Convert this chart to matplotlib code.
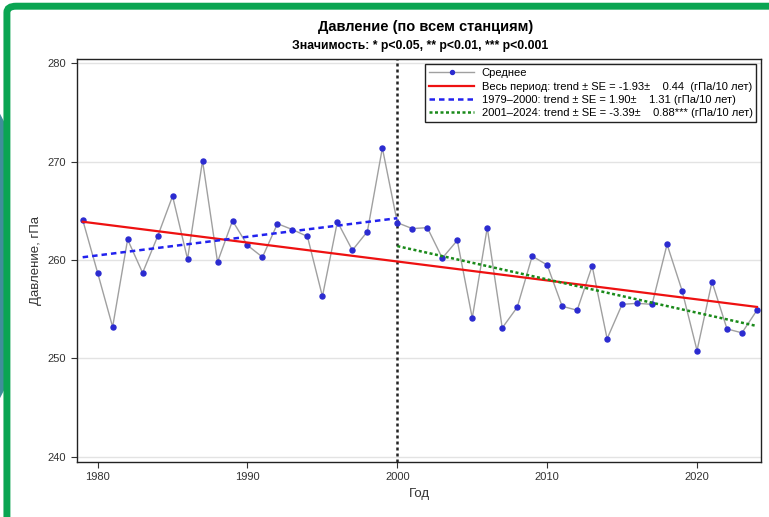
import matplotlib.pyplot as plt
import numpy as np
from matplotlib.patches import FancyBboxPatch, Polygon

plt.rcParams['font.family'] = ['Liberation Sans', 'DejaVu Sans']

# Data
years = np.arange(1979, 2025)
pressure = [264.1, 258.7, 253.2, 262.1, 258.7, 262.4, 266.5, 260.1, 270.1, 259.8,
            264.0, 261.5, 260.3, 263.7, 263.1, 262.4, 256.3, 263.9, 261.0, 262.9,
            271.4, 263.8, 263.2, 263.3, 260.2, 262.0, 254.1, 263.3, 253.1, 255.2,
            260.4, 259.5, 255.3, 254.9, 259.4, 252.0, 255.5, 255.6, 255.5, 261.6,
            256.9, 250.8, 257.8, 253.0, 252.6, 254.9]
split_year = 2000

legend_labels = [
    'Среднее',
    'Весь период: trend ± SE = -1.93±    0.44  (гПа/10 лет)',
    '1979–2000: trend ± SE = 1.90±    1.31 (гПа/10 лет)',
    '2001–2024: trend ± SE = -3.39±    0.88*** (гПа/10 лет)',
]

years = np.array(years)
pressure = np.array(pressure)


def fit_line(x, y):
    slope, intercept = np.polyfit(x, y, 1)
    return x, slope * x + intercept


fig = plt.figure(figsize=(7.69, 5.17), dpi=100)
ax = fig.add_axes([0.0997, 0.107, 0.8905, 0.778])

# Mean series
ax.plot(years, pressure, color='#a0a0a0', lw=1, marker='o', ms=3.6,
        mfc='#2b2bd0', mec='#2b2bd0', label=legend_labels[0], zorder=3)

# Trend lines
x_all, y_all = fit_line(years, pressure)
ax.plot(x_all, y_all, color='#ee1111', lw=1.6, label=legend_labels[1], zorder=4)

m1 = years <= split_year
x1, y1 = fit_line(years[m1], pressure[m1])
ax.plot(x1, y1, color='#2222ee', lw=1.8, ls=(0, (2.2, 1.6)), label=legend_labels[2], zorder=4)

m2 = years >= split_year
x2, y2 = fit_line(years[m2], pressure[m2])
ax.plot(x2, y2, color='#1a8a1a', lw=1.8, ls=(0, (1.2, 1.0)), label=legend_labels[3], zorder=4)

ax.axvline(split_year, color='#222222', lw=1.8, ls=(0, (1.2, 1.2)), zorder=2)

ax.set_xlim(1978.6, 2024.3)
ax.set_ylim(239.5, 280.4)
ax.set_xticks([1980, 1990, 2000, 2010, 2020])
ax.set_yticks([240, 250, 260, 270, 280])
ax.grid(axis='y', color='#e3e3e3', lw=1)
ax.set_axisbelow(True)
ax.tick_params(labelsize=8, colors='#333333', length=4)
for s in ax.spines.values():
    s.set_color('#222222')
    s.set_linewidth(1)

ax.set_xlabel('Год', fontsize=9.5, color='#333333')
ax.set_ylabel('Давление, гПа', fontsize=9.5, color='#333333')

fig.text(0.553, 0.941, 'Давление (по всем станциям)', ha='center', fontsize=10.5,
         fontweight='bold')
fig.text(0.546, 0.905, 'Значимость: * p<0.05, ** p<0.01, *** p<0.001', ha='center',
         fontsize=8.8, fontweight='bold')

leg = ax.legend(loc='upper right', fontsize=8.0, frameon=True, fancybox=False,
                framealpha=1, edgecolor='#222222', borderpad=0.35, labelspacing=0.3,
                handlelength=4.0, handletextpad=0.7, borderaxespad=0.45, markerscale=0.8)
leg.get_frame().set_linewidth(1)

# Slide frame decorations
fig.patches.append(Polygon([[0, 0.78], [0.007, 0.76], [0.007, 0.25], [0, 0.23]],
                           closed=True, transform=fig.transFigure,
                           facecolor='#3f8f9a', edgecolor='none'))
fig.patches.append(FancyBboxPatch((0.009, -0.05), 1.2, 1.038,
                                  boxstyle='round,pad=0,rounding_size=0.012',
                                  transform=fig.transFigure, facecolor='none',
                                  edgecolor='#0aa552', lw=5))

fig.savefig('out.png', dpi=100)
